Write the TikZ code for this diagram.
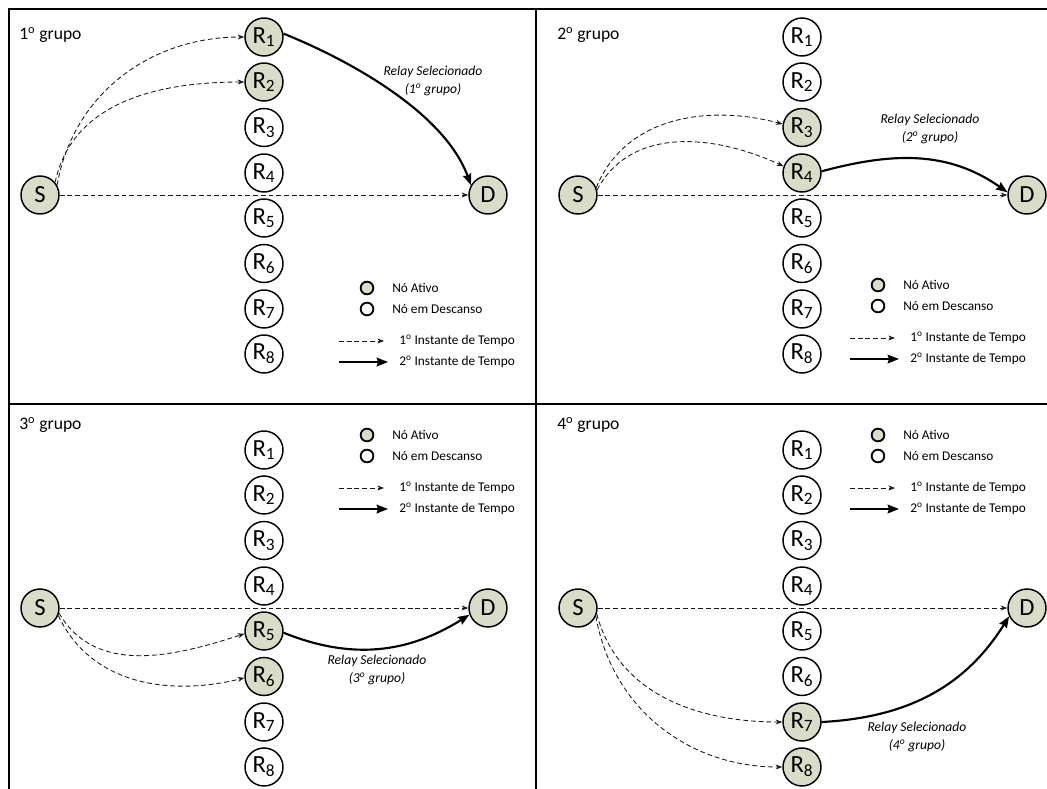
\documentclass[tikz,border=0pt]{standalone}
\usepackage{fontspec}
\setmainfont{Carlito}
\usetikzlibrary{arrows.meta}
\definecolor{activefill}{RGB}{217,221,199}

% legend: #1 name prefix, #2 x and #3 y of the first dot (pixels, y downwards)
\newcommand\legendbox[3]{%
  \node[legenddot,fill=activefill] (#1dotA) at ({#2},{-#3}) {};
  \node[legendtext] (#1txtA) at ({#2+25},{-#3}) {Nó Ativo};
  \node[legenddot,fill=white] (#1dotB) at ({#2},{-#3-21}) {};
  \node[legendtext] (#1txtB) at ({#2+25},{-#3-21}) {Nó em Descanso};
  \coordinate (#1dashS) at ({#2-28},{-#3-53});
  \coordinate (#1dashE) at ({#2+17},{-#3-53});
  \draw[first] (#1dashS) -- (#1dashE);
  \node[legendtext] (#1txtC) at ({#2+32},{-#3-53}) {1\textsuperscript{o} Instante de Tempo};
  \coordinate (#1solS) at ({#2-28},{-#3-74});
  \coordinate (#1solE) at ({#2+21},{-#3-74});
  \draw[second] (#1solS) -- (#1solE);
  \node[legendtext] (#1txtD) at ({#2+32},{-#3-74}) {2\textsuperscript{o} Instante de Tempo};
}

\begin{document}
\begin{tikzpicture}[x=0.75pt,y=0.75pt,
  relay/.style={circle,draw=black,line width=1.1pt,minimum size=28.5pt,inner sep=0pt,
                font=\fontsize{18.5}{20}\selectfont},
  activenode/.style={relay,fill=activefill},
  idlenode/.style={relay,fill=white},
  first/.style={dash pattern=on 3.6pt off 2.2pt,line width=0.65pt,draw=black!90,
                -{Stealth[length=5pt,width=3.8pt]}},
  second/.style={line width=1.6pt,-{Stealth[length=8.5pt,width=6.5pt,inset=1pt]}},
  grouplabel/.style={anchor=west,font=\fontsize{13.2}{15}\selectfont,inner sep=0pt},
  relaylabel/.style={align=center,font=\fontsize{10.2}{13}\selectfont\itshape,inner sep=0pt},
  legendtext/.style={anchor=west,font=\fontsize{10}{12}\selectfont,inner sep=0pt},
  legenddot/.style={circle,draw=black,line width=1.4pt,minimum size=9.5pt,inner sep=0pt},
  frame/.style={line width=1.4pt}
]
\useasboundingbox (0,0) rectangle (1047,-789);

% panel borders
\draw[frame] (9,-789) -- (9,-9) -- (1047,-9);
\draw[frame] (536,-9) -- (536,-789);
\draw[frame] (9,-404) -- (1047,-404);

% ---------- 1st group ----------
\node[grouplabel] (g1) at (19,-35) {1\textsuperscript{o} grupo};
\node[activenode] (aS) at (40,-195) {S};
\node[activenode] (aD) at (488,-195) {D};
\foreach \i/\y/\s in {1/37/activenode,2/82/activenode,3/127.5/idlenode,4/173/idlenode,
                      5/218/idlenode,6/263.5/idlenode,7/309/idlenode,8/354/idlenode}
  \node[\s] (aR\i) at (264,-\y) {R\textsubscript{\i}};
\draw[first] (aS) -- (aD);
\draw[first] (aS.30) to[out=80,in=180] (aR1);
\draw[first] (aS.40) to[out=78,in=180] (aR2);
\draw[second] (aR1.10) to[out=-22,in=110,looseness=0.8] (aD.150);
\node[relaylabel] (l1) at (433,-81) {Relay Selecionado\\(1\textsuperscript{o} grupo)};
\legendbox{a}{367}{288}

% ---------- 2nd group ----------
\node[grouplabel] (g2) at (557,-35) {2\textsuperscript{o} grupo};
\node[activenode] (bS) at (578,-195) {S};
\node[activenode] (bD) at (1027,-195) {D};
\foreach \i/\y/\s in {1/37/idlenode,2/82/idlenode,3/127.5/activenode,4/173/activenode,
                      5/218/idlenode,6/263.5/idlenode,7/309/idlenode,8/354/idlenode}
  \node[\s] (bR\i) at (802,-\y) {R\textsubscript{\i}};
\draw[first] (bS) -- (bD);
\draw[first] (bS.22) to[out=68,in=165] (bR3.170);
\draw[first] (bS.15) to[out=62,in=155] (bR4.160);
\draw[second] (bR4.5) to[out=15,in=145] (bD.172);
\node[relaylabel] (l2) at (930,-129) {Relay Selecionado\\(2\textsuperscript{o} grupo)};
\legendbox{b}{878}{285}

% ---------- 3rd group ----------
\node[grouplabel] (g3) at (19,-425) {3\textsuperscript{o} grupo};
\node[activenode] (cS) at (40,-608) {S};
\node[activenode] (cD) at (488,-608) {D};
\foreach \i/\y/\s in {1/450/idlenode,2/495/idlenode,3/540.5/idlenode,4/586/idlenode,
                      5/631/activenode,6/676.5/activenode,7/722/idlenode,8/767/idlenode}
  \node[\s] (cR\i) at (264,-\y) {R\textsubscript{\i}};
\draw[first] (cS) -- (cD);
\draw[first] (cS.-15) to[out=-60,in=198] (cR5.188);
\draw[first] (cS.-22) to[out=-65,in=194] (cR6.184);
\draw[second] (cR5.-5) to[out=-22,in=212] (cD.200);
\node[relaylabel] (l3) at (377,-670) {Relay Selecionado\\(3\textsuperscript{o} grupo)};
\legendbox{c}{367}{435}

% ---------- 4th group ----------
\node[grouplabel] (g4) at (557,-425) {4\textsuperscript{o} grupo};
\node[activenode] (dS) at (578,-608) {S};
\node[activenode] (dD) at (1027,-608) {D};
\foreach \i/\y/\s in {1/450/idlenode,2/495/idlenode,3/540.5/idlenode,4/586/idlenode,
                      5/631/idlenode,6/676.5/idlenode,7/722/activenode,8/767/activenode}
  \node[\s] (dR\i) at (802,-\y) {R\textsubscript{\i}};
\draw[first] (dS) -- (dD);
\draw[first] (dS.-18) to[out=-75,in=180] (dR7);
\draw[first] (dS.-25) to[out=-80,in=180] (dR8);
\draw[second] (dR7.east) to[out=3,in=238] (dD.205);
\node[relaylabel] (l4) at (917,-737) {Relay Selecionado\\(4\textsuperscript{o} grupo)};
\legendbox{d}{878}{435}

\end{tikzpicture}
\end{document}
